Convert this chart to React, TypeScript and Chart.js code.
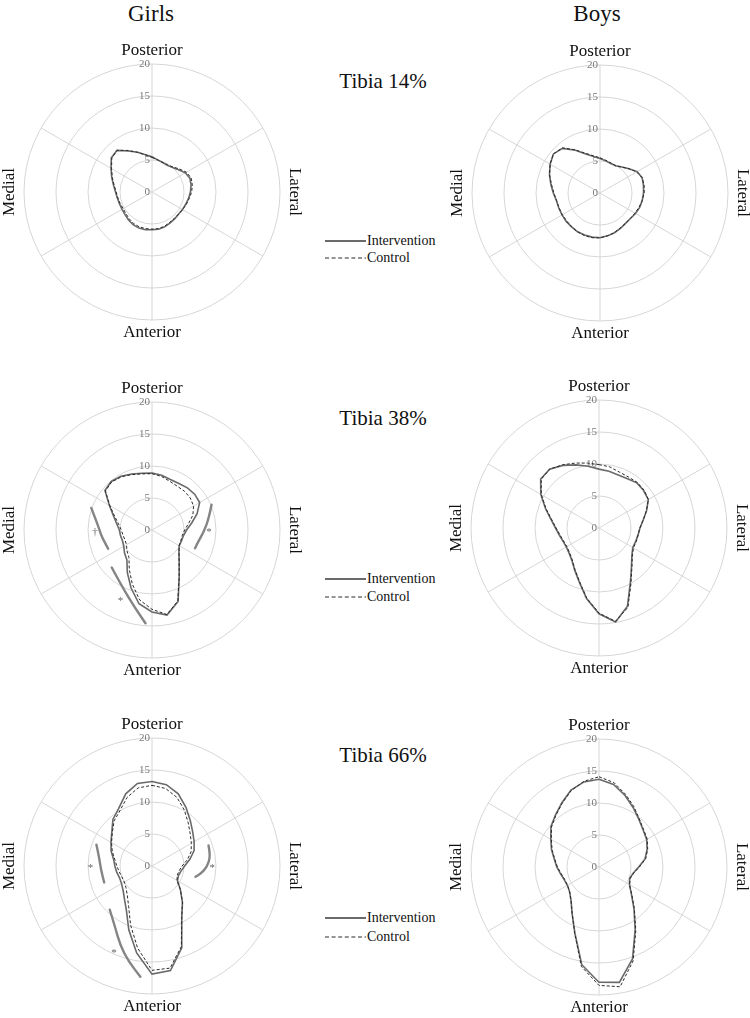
import React, { useEffect, useRef } from "react";
import { Chart, registerables } from "chart.js";

Chart.register(...registerables);

// 36 directions, 10° apart, clockwise from Posterior (top)
const ANGLE_LABELS = [
  "0°", "10°", "20°", "30°", "40°", "50°", "60°", "70°", "80°", "90°", "100°", "110°",
  "120°", "130°", "140°", "150°", "160°", "170°", "180°", "190°", "200°", "210°", "220°", "230°",
  "240°", "250°", "260°", "270°", "280°", "290°", "300°", "310°", "320°", "330°", "340°", "350°",
];
const TICKS = [0, 5, 10, 15, 20];
const AXIS_LABELS = ["Posterior", "Lateral", "Anterior", "Medial"];
const SERIES_NAMES = ["Intervention", "Control"];
const GROUPS = ["Girls", "Boys"];
const SITES = ["Tibia 14%", "Tibia 38%", "Tibia 66%"];

// ---- Tibia 14% ----
const GIRLS_14_INT = [5.5, 5.1, 4.9, 4.8, 5.0, 5.4, 6.0, 6.3, 6.2, 6.0, 5.8, 5.6, 5.5, 5.4, 5.5, 5.6, 5.8, 5.9, 5.9, 6.0, 6.0, 5.9, 5.7, 5.5, 5.4, 5.4, 5.5, 5.7, 6.1, 6.7, 7.4, 8.3, 8.5, 7.4, 6.6, 5.9];
const GIRLS_14_CON = [5.4, 5.1, 4.9, 4.9, 5.1, 5.6, 6.2, 6.5, 6.4, 6.2, 5.9, 5.7, 5.5, 5.4, 5.4, 5.5, 5.7, 5.8, 5.8, 5.8, 5.8, 5.7, 5.5, 5.3, 5.2, 5.3, 5.4, 5.6, 6.0, 6.6, 7.3, 8.2, 8.5, 7.5, 6.6, 5.9];
const BOYS_14_INT = [5.4, 5.1, 4.9, 4.9, 5.3, 5.9, 6.7, 7.0, 6.9, 6.8, 6.7, 6.6, 6.4, 6.2, 6.2, 6.4, 6.6, 6.8, 7.0, 7.0, 7.0, 7.0, 6.9, 6.9, 6.85, 6.85, 6.9, 7.3, 7.8, 8.4, 9.0, 9.5, 9.1, 7.7, 6.5, 5.8];
const BOYS_14_CON = [5.5, 5.2, 5.0, 4.9, 5.3, 5.9, 6.6, 7.0, 7.0, 6.9, 6.7, 6.5, 6.3, 6.2, 6.2, 6.3, 6.6, 6.8, 7.0, 7.1, 7.1, 7.0, 6.9, 6.8, 6.8, 6.8, 6.9, 7.2, 7.7, 8.4, 9.0, 9.5, 9.2, 7.8, 6.6, 5.9];

// ---- Tibia 38% ----
const GIRLS_38_INT = [8.9, 8.7, 8.4, 8.4, 8.6, 8.7, 8.6, 7.5, 6.3, 5.4, 5.0, 4.9, 4.9, 5.5, 6.6, 8.5, 11.9, 13.5, 12.8, 11.7, 9.6, 7.7, 6.1, 5.6, 5.1, 4.9, 5.0, 5.1, 5.6, 6.4, 7.7, 9.6, 9.9, 9.7, 9.3, 9.0];
const GIRLS_38_CON = [8.8, 8.5, 8.1, 7.9, 7.9, 7.8, 7.5, 6.8, 5.8, 5.1, 4.8, 4.8, 4.9, 5.5, 6.6, 8.5, 11.8, 13.4, 12.4, 11.1, 9.0, 7.1, 5.6, 5.1, 4.6, 4.5, 4.6, 4.8, 5.3, 6.2, 7.6, 9.5, 9.8, 9.6, 9.2, 8.9];
const BOYS_38_INT = [9.2, 9.0, 8.8, 8.9, 9.2, 9.1, 8.9, 7.9, 7.0, 6.4, 6.2, 6.1, 6.1, 6.7, 7.9, 9.8, 13.0, 14.9, 13.4, 11.2, 9.0, 7.6, 6.6, 6.1, 5.9, 6.0, 6.3, 6.8, 7.6, 8.9, 10.5, 11.9, 12.0, 11.3, 10.5, 9.8];
const BOYS_38_CON = [9.9, 9.7, 9.3, 9.2, 9.3, 9.2, 8.9, 7.9, 7.0, 6.4, 6.2, 6.2, 6.2, 6.8, 8.0, 10.0, 13.2, 14.8, 13.3, 11.1, 8.9, 7.5, 6.5, 6.0, 5.8, 5.9, 6.2, 6.7, 7.5, 8.8, 10.4, 11.8, 12.0, 11.4, 10.8, 10.3];

// ---- Tibia 66% ----
const GIRLS_66_INT = [13.2, 12.9, 12.0, 10.6, 9.3, 8.3, 7.6, 7.0, 6.0, 5.1, 4.6, 4.4, 4.6, 5.8, 7.4, 9.3, 13.6, 16.6, 16.9, 13.8, 10.6, 8.0, 6.7, 5.9, 5.5, 5.4, 5.6, 5.8, 6.1, 6.8, 7.4, 8.2, 9.5, 10.4, 12.0, 13.1];
const GIRLS_66_CON = [12.6, 12.3, 11.4, 10.1, 8.8, 7.8, 7.1, 6.5, 5.6, 4.7, 4.3, 4.2, 4.5, 5.8, 7.4, 9.3, 13.4, 16.2, 16.3, 13.0, 9.8, 7.3, 6.0, 5.3, 5.0, 5.0, 5.2, 5.5, 5.9, 6.6, 7.3, 8.1, 9.2, 10.0, 11.4, 12.4];
const BOYS_66_INT = [13.7, 13.1, 11.9, 10.7, 9.7, 9.0, 8.6, 8.0, 7.3, 6.2, 5.45, 5.1, 5.5, 6.6, 8.5, 11.3, 15.3, 18.3, 18.0, 15.5, 11.0, 8.4, 6.8, 6.0, 5.7, 5.8, 6.1, 6.6, 7.1, 7.9, 8.7, 9.8, 10.6, 11.6, 12.8, 13.5];
const BOYS_66_CON = [14.1, 13.4, 12.1, 10.9, 9.8, 9.1, 8.7, 8.1, 7.4, 6.3, 5.5, 5.2, 5.5, 6.7, 8.6, 11.5, 15.6, 19.0, 18.5, 15.8, 11.1, 8.4, 6.8, 6.0, 5.7, 5.7, 6.0, 6.5, 7.0, 7.8, 8.6, 9.7, 10.5, 11.5, 12.7, 13.6];

// significance brackets: [angle in degrees, radial value]
const GIRLS_38_ARC_LATERAL: [number, number][] = [[67, 10.1], [78, 9.1], [92, 8.1], [106, 7.4], [113, 7.3]];
const GIRLS_38_ARC_MEDIAL: [number, number][] = [[290, 10.1], [279, 8.8], [270, 8.2], [262, 7.9], [247, 7.45]];
const GIRLS_38_ARC_ANTMED: [number, number][] = [[227, 8.6], [208, 10.0], [193, 12.3], [184, 14.6]];
const GIRLS_38_MARKS = [
  { sym: "*", deg: 90, r: 8.9 },
  { sym: "†", deg: 268, r: 8.9 },
  { sym: "*", deg: 204.5, r: 11.9 },
];
const GIRLS_66_ARC_LATERAL: [number, number][] = [[70, 9.4], [80, 9.3], [91, 8.6], [99, 7.7], [104, 7.0]];
const GIRLS_66_ARC_MEDIAL: [number, number][] = [[291, 9.3], [280, 8.4], [266, 8.0], [251, 7.9]];
const GIRLS_66_ARC_ANTMED: [number, number][] = [[224, 9.5], [212, 11.0], [202, 13.3], [194, 15.3], [186, 17.4]];
const GIRLS_66_MARKS = [
  { sym: "*", deg: 90, r: 9.4 },
  { sym: "*", deg: 270, r: 9.6 },
  { sym: "*", deg: 204, r: 14.6 },
];

const SERIF = '"Liberation Serif", "Times New Roman", serif';

type Arc = [number, number][];
type Mark = { sym: string; deg: number; r: number };

const CANVAS = 320;
const PAD = 32;

function RadarPanel(props: {
  cx: number; cy: number; intervention: number[]; control: number[]; arcs?: Arc[]; marks?: Mark[];
}) {
  const ref = useRef<HTMLCanvasElement>(null);
  const { cx, cy, intervention, control } = props;
  const arcs = props.arcs || [];
  const marks = props.marks || [];

  useEffect(() => {
    const canvas = ref.current;
    if (!canvas) return;
    const step = 360 / ANGLE_LABELS.length;
    const decor = {
      id: "panelDecor",
      beforeDatasetsDraw(chart: any) {
        const s = chart.scales.r;
        const ctx = chart.ctx;
        ctx.save();
        ctx.font = `11px ${SERIF}`;
        ctx.fillStyle = "#7a7a7a";
        ctx.textAlign = "right";
        ctx.textBaseline = "middle";
        TICKS.forEach((v) => {
          const p = s.getPointPositionForValue(0, v);
          ctx.fillText(String(v), p.x - 2, p.y);
        });
        // brackets
        ctx.strokeStyle = "#858585";
        ctx.lineWidth = 2.4;
        ctx.lineCap = "round";
        ctx.lineJoin = "round";
        arcs.forEach((arc) => {
          const pts = arc.map(([d, v]) => s.getPointPositionForValue(d / step, v));
          ctx.beginPath();
          ctx.moveTo(pts[0].x, pts[0].y);
          for (let i = 1; i < pts.length - 1; i++) {
            const mx = (pts[i].x + pts[i + 1].x) / 2;
            const my = (pts[i].y + pts[i + 1].y) / 2;
            ctx.quadraticCurveTo(pts[i].x, pts[i].y, mx, my);
          }
          const last = pts[pts.length - 1];
          ctx.lineTo(last.x, last.y);
          ctx.stroke();
        });
        ctx.fillStyle = "#666";
        ctx.textAlign = "center";
        ctx.font = `11px ${SERIF}`;
        marks.forEach((m) => {
          const p = s.getPointPositionForValue(m.deg / step, m.r);
          ctx.fillText(m.sym, p.x, p.y + (m.sym === "*" ? 2 : 0));
        });
        ctx.restore();
      },
      afterDraw(chart: any) {
        const s = chart.scales.r;
        const ctx = chart.ctx;
        const dv = s.drawingArea + 13;
        const dh = s.drawingArea + 14;
        ctx.save();
        ctx.font = `17px ${SERIF}`;
        ctx.fillStyle = "#111";
        ctx.textAlign = "center";
        ctx.textBaseline = "middle";
        ctx.fillText(AXIS_LABELS[0], s.xCenter, s.yCenter - dv);
        ctx.fillText(AXIS_LABELS[2], s.xCenter, s.yCenter + dv);
        ctx.save();
        ctx.translate(s.xCenter + dh, s.yCenter);
        ctx.rotate(Math.PI / 2);
        ctx.fillText(AXIS_LABELS[1], 0, 0);
        ctx.restore();
        ctx.save();
        ctx.translate(s.xCenter - dh, s.yCenter);
        ctx.rotate(-Math.PI / 2);
        ctx.fillText(AXIS_LABELS[3], 0, 0);
        ctx.restore();
        ctx.restore();
      },
    };

    const chart = new Chart(canvas, {
      type: "radar",
      data: {
        labels: ANGLE_LABELS,
        datasets: [
          {
            label: SERIES_NAMES[1],
            data: control,
            borderColor: "#2a2a2a",
            borderWidth: 1,
            borderDash: [3, 2],
            pointRadius: 0,
            fill: false,
            tension: 0,
          },
          {
            label: SERIES_NAMES[0],
            data: intervention,
            borderColor: "#6a6a6a",
            borderWidth: 1.6,
            pointRadius: 0,
            fill: false,
            tension: 0,
          },
        ],
      },
      options: {
        responsive: false,
        animation: false,
        layout: { padding: PAD },
        plugins: { legend: { display: false }, tooltip: { enabled: false } },
        scales: {
          r: {
            min: 0,
            max: 20,
            ticks: { stepSize: 5, display: false },
            grid: { color: "#d6d6d6", lineWidth: 1, circular: true },
            angleLines: {
              display: true,
              color: "#d6d6d6",
              lineWidth: (c: any) => (c.index % 6 === 0 ? 1 : 0),
            },
            pointLabels: { display: false },
          },
        },
      } as any,
      plugins: [decor],
    });
    return () => chart.destroy();
  }, []);

  return (
    <canvas
      ref={ref}
      width={CANVAS}
      height={CANVAS}
      style={{
        position: "absolute",
        left: cx - CANVAS / 2,
        top: cy - CANVAS / 2,
        width: CANVAS,
        height: CANVAS,
      }}
    />
  );
}

function Text(props: { x: number; y: number; size: number; children: React.ReactNode }) {
  return (
    <div
      style={{
        position: "absolute",
        left: props.x,
        top: props.y,
        transform: "translate(-50%, -50%)",
        fontFamily: SERIF,
        fontSize: props.size,
        color: "#111",
        whiteSpace: "nowrap",
        lineHeight: 1,
      }}
    >
      {props.children}
    </div>
  );
}

function Legend(props: { y1: number; y2: number }) {
  const row = (y: number, dashed: boolean, label: string) => (
    <div
      style={{
        position: "absolute",
        left: 325,
        top: y - 9,
        height: 18,
        display: "flex",
        alignItems: "center",
        fontFamily: SERIF,
        fontSize: 14,
        color: "#111",
        whiteSpace: "nowrap",
      }}
    >
      <svg width={41} height={6} style={{ display: "block" }}>
        <line
          x1={0}
          y1={3}
          x2={41}
          y2={3}
          stroke={dashed ? "#2a2a2a" : "#6a6a6a"}
          strokeWidth={dashed ? 1 : 1.8}
          strokeDasharray={dashed ? "4,2.6" : undefined}
        />
      </svg>
      <span style={{ marginLeft: 1 }}>{label}</span>
    </div>
  );
  return (
    <>
      {row(props.y1, false, SERIES_NAMES[0])}
      {row(props.y2, true, SERIES_NAMES[1])}
    </>
  );
}

export default function App() {
  return (
    <div
      style={{
        position: "absolute",
        left: 0,
        top: 0,
        width: 750,
        height: 1018,
        overflow: "hidden",
        background: "#fff",
      }}
    >
      <Text x={151} y={13} size={23}>{GROUPS[0]}</Text>
      <Text x={597} y={13} size={23}>{GROUPS[1]}</Text>

      <Text x={383} y={81} size={21}>{SITES[0]}</Text>
      <Text x={383} y={418} size={21}>{SITES[1]}</Text>
      <Text x={383} y={755} size={21}>{SITES[2]}</Text>

      <RadarPanel cx={152} cy={192} intervention={GIRLS_14_INT} control={GIRLS_14_CON} />
      <RadarPanel cx={600} cy={193} intervention={BOYS_14_INT} control={BOYS_14_CON} />
      <RadarPanel
        cx={152}
        cy={530}
        intervention={GIRLS_38_INT}
        control={GIRLS_38_CON}
        arcs={[GIRLS_38_ARC_LATERAL, GIRLS_38_ARC_MEDIAL, GIRLS_38_ARC_ANTMED]}
        marks={GIRLS_38_MARKS}
      />
      <RadarPanel cx={599} cy={528} intervention={BOYS_38_INT} control={BOYS_38_CON} />
      <RadarPanel
        cx={152}
        cy={866}
        intervention={GIRLS_66_INT}
        control={GIRLS_66_CON}
        arcs={[GIRLS_66_ARC_LATERAL, GIRLS_66_ARC_MEDIAL, GIRLS_66_ARC_ANTMED]}
        marks={GIRLS_66_MARKS}
      />
      <RadarPanel cx={599} cy={867} intervention={BOYS_66_INT} control={BOYS_66_CON} />

      <Legend y1={241} y2={257.5} />
      <Legend y1={579} y2={597} />
      <Legend y1={918} y2={937} />
    </div>
  );
}
